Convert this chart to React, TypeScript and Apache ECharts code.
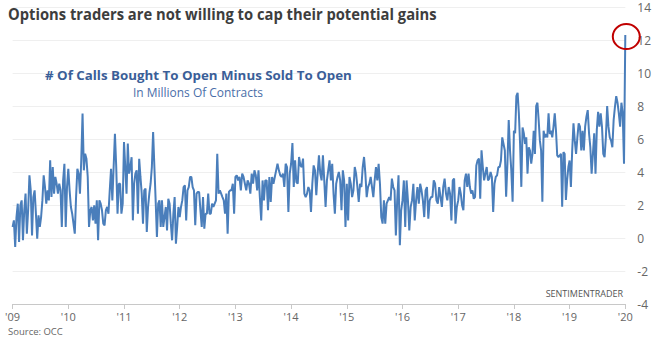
import React, { useEffect, useRef } from "react";
import * as echarts from "echarts";

// Weekly readings (millions of contracts), one small list per calendar year
const y2009 = [0.67, 1.07, -0.55, 1.27, 2.08, -0.24, 1.98, 2.28, -0.14, 1.68, 2.69, 0.26, 1.68, 3.8, 2.89, 0.16, 2.48, 2.89, 1.47, -0.04, 1.37, 0.67, 1.27, 2.28, 3.8, 3.09, 2.08, 2.89, 2.28, 4.71, 2.48, 4.3, 2.69, 3.7, 3.29, 2.69, 3.29, 2.89, 0.67, 3.49, 4.5, 0.67, 3.09];
const y2010 = [4.2, 2.89, 1.88, 1.47, 0.87, 0.26, 2.48, 4.2, 3.9, 2.69, 4.71, 7.54, 4.1, 5.11, 4.81, 3.7, 0.67, 1.68, 1.88, 1.07, 1.98, 0.87, 2.28, -0.14, 2.28, 2.08, 1.68, 0.87, 0.77, 1.68, 1.88, 1.47, 2.89, 4.2, 2.28, 4.3, 6.32, 4.3, 1.47, 3.29, 3.29, 1.47, 2.08];
const y2011 = [5.82, 4.3, 2.69, 5.72, 3.9, 4.3, 4.9, 1.07, 3.29, 3.9, 4.1, 1.47, 4.8, 3.7, 2.69, 0.87, 2.89, 3.0, 0.36, 1.88, 2.69, 3.29, 4.3, 6.42, 4.3, 2.28, 0.06, 2.08, 2.28, 0.67, 2.28, 0.67, 1.27, 1.88, 0.46, 2.38, 2.08, 0.87, -0.14, 1.47, 2.48, -0.34, 0.67, 1.88];
const y2012 = [1.27, 1.88, 2.28, 3.09, 3.19, 1.07, 2.89, 3.09, 3.7, 3.7, 3.09, 2.89, 0.77, 2.69, 2.79, 2.79, 1.68, 0.67, 2.48, 0.57, 1.47, 1.47, 2.69, 1.47, 1.47, 2.08, 1.88, 2.08, 2.28, 5.11, 2.69, 2.89, 2.69, 2.48, 2.28, 1.47, 2.69, 0.26, 2.79, 2.89, 2.89, 3.29, 1.47];
const y2013 = [3.7, 3.8, 3.49, 3.7, 2.89, 3.9, 3.7, 3.29, 2.89, 3.49, 3.29, 2.69, 3.9, 3.29, 4.1, 3.8, 2.89, 4.1, 2.48, 1.07, 3.49, 2.28, 3.49, 3.49, 1.68, 3.7, 2.18, 3.7, 3.29, 3.7, 4.1, 4.5, 4.1, 3.8, 3.7, 3.9, 3.09, 4.5, 4.3, 1.58, 3.9];
const y2014 = [4.5, 5.76, 3.09, 4.71, 3.39, 3.29, 4.91, 4.4, 4.3, 4.81, 2.69, 2.48, 2.69, 3.09, 2.89, 1.58, 3.29, 4.4, 4.1, 2.59, 3.9, 5.01, 3.9, 3.49, 5.01, 3.49, 1.88, 3.49, 4.1, 4.71, 3.49, 4.5, 2.69, 1.47, 3.29, 3.7, 4.0, 3.49, 1.68, 4.1, 3.49, 0.67];
const y2015 = [3.29, 1.07, 3.7, 3.29, 2.48, 2.89, 4.3, 3.9, 3.09, 2.18, 3.29, 3.09, 4.3, 4.91, 3.9, 2.48, 3.09, 3.29, 3.7, 3.09, 2.48, 3.49, 4.3, 3.49, 4.5, 3.29, 1.27, 0.87, 2.28, 0.87, 2.08, 2.28, 2.48, 2.28, 3.6, 3.09, 2.89, 0.16, 2.28, 3.8, -0.44, 1.68];
const y2016 = [2.28, 3.49, 0.67, 3.49, 2.28, 0.46, 1.88, 2.28, 3.29, 1.07, 2.28, 3.09, 2.08, 3.29, 2.89, 2.28, 1.27, 2.89, 3.09, 1.17, 2.28, 2.48, 2.48, 3.49, 3.29, 2.28, 2.08, 3.09, 2.48, 1.88, 3.09, 3.6, 2.69, 2.28, 3.09, 2.69, 1.07, 3.49, 3.6, 0.87, 1.88];
const y2017 = [2.28, 3.09, 2.69, 1.98, 1.68, 3.49, 3.9, 3.09, 3.9, 3.09, 2.69, 2.89, 2.38, 2.48, 4.4, 4.71, 4.81, 2.38, 5.31, 4.3, 3.49, 3.9, 4.3, 3.49, 3.6, 4.0, 3.7, 1.58, 3.29, 3.7, 3.8, 4.3, 4.3, 4.7, 6.1, 5.7, 5.3, 2.5, 4.5, 7.15, 5.3, 4.1, 2.2];
const y2018 = [6.5, 6.35, 8.6, 8.8, 7.55, 5.7, 3.1, 6.7, 6.35, 5.7, 6.1, 3.9, 5.5, 5.3, 4.5, 5.1, 6.5, 5.1, 8.0, 8.2, 7.15, 5.9, 5.3, 2.2, 6.5, 6.1, 6.3, 6.1, 7.55, 6.3, 6.5, 6.1, 6.75, 7.55, 6.5, 5.0, 4.9, 5.0, 5.1, 1.9, 5.2, 5.1, 2.3, 3.5, 4.3];
const y2019 = [4.7, 3.1, 5.3, 6.95, 5.9, 5.1, 6.1, 6.95, 6.75, 5.3, 6.5, 5.3, 6.75, 7.35, 7.75, 6.35, 5.5, 3.9, 5.1, 6.35, 3.9, 6.55, 7.65, 6.75, 7.55, 6.75, 5.1, 4.9, 6.1, 8.0, 6.75, 6.1, 5.9, 5.5, 7.15, 7.95, 8.6, 8.2, 7.55, 6.75, 8.2, 7.55, 4.5];
const y2020 = [12.3];

const yearLists: [number, number[]][] = [
  [2009, y2009], [2010, y2010], [2011, y2011], [2012, y2012], [2013, y2013], [2014, y2014],
  [2015, y2015], [2016, y2016], [2017, y2017], [2018, y2018], [2019, y2019], [2020, y2020],
];

const yAxisRange = { min: -4, max: 14, step: 2 };
const xAxisRange = { min: 2009, max: 2020, step: 1 };

const titleText = "Options traders are not willing to cap their potential gains";
const noteText = "# Of Calls Bought To Open Minus Sold To Open";
const noteSubText = "In Millions Of Contracts";
const creditText = "SENTIMENTRADER";
const sourceText = "Source: OCC";

function buildSeries(): [number, number][] {
  const out: [number, number][] = [];
  for (const [yr, vals] of yearLists) {
    vals.forEach((v, i) => out.push([yr + i / vals.length, v]));
  }
  return out;
}

function measure(text: string, font: string): number {
  const ctx = document.createElement("canvas").getContext("2d");
  if (!ctx) return 0;
  ctx.font = font;
  return ctx.measureText(text).width;
}

export default function App() {
  const ref = useRef<HTMLDivElement>(null);
  useEffect(() => {
    if (!ref.current) return;
    const chart = echarts.init(ref.current, undefined, { renderer: "svg" });
    const data = buildSeries();
    chart.setOption({
      animation: false,
      backgroundColor: "#ffffff",
      grid: { left: 12.6, right: 34.7, top: 7, bottom: 35, containLabel: false },
      xAxis: {
        type: "value",
        min: xAxisRange.min,
        max: xAxisRange.max,
        interval: xAxisRange.step,
        axisLine: { onZero: false, lineStyle: { color: "#c8c8c8", width: 1 } },
        axisTick: { show: true, length: 5, lineStyle: { color: "#c8c8c8" } },
        splitLine: { show: false },
        axisLabel: {
          margin: 6,
          color: "#666666",
          fontSize: 11,
          lineHeight: 12,
          fontFamily: "Open Sans",
          formatter: (v: number) => "'" + String(Math.round(v)).slice(2),
        },
      },
      yAxis: {
        type: "value",
        position: "right",
        min: yAxisRange.min,
        max: yAxisRange.max,
        interval: yAxisRange.step,
        axisLine: { show: false },
        axisTick: { show: false },
        splitLine: { lineStyle: { color: "#efefef", width: 1 } },
        axisLabel: { margin: 12, color: "#666666", fontSize: 12, fontFamily: "Open Sans" },
      },
      series: [
        {
          type: "line",
          data,
          showSymbol: false,
          symbol: "none",
          clip: false,
          lineStyle: { color: "#4a7ebb", width: 2 },
          emphasis: { disabled: true },
        },
      ],
    });

    const last = data[data.length - 1];
    const [px, py] = chart.convertToPixel({ seriesIndex: 0 }, last) as number[];

    const titleFont = 'bold 16px "Open Sans"';
    const titleW = measure(titleText, titleFont) || 430;
    const noteFont = 'bold 13px "Open Sans"';
    const noteW = measure(noteText, noteFont) || 307;
    const subFont = '12px "Open Sans"';
    const subW = measure(noteSubText, subFont) || 130;

    chart.setOption({
      graphic: [
        {
          type: "text",
          x: 8,
          y: 14,
          scaleX: 429 / titleW,
          style: {
            text: titleText,
            font: titleFont,
            fill: "#3d3d3d",
            textAlign: "left",
            textVerticalAlign: "middle",
          },
        },
        {
          type: "text",
          x: 45,
          y: 75,
          scaleX: 307 / noteW,
          style: {
            text: noteText,
            font: noteFont,
            fill: "#3a5e98",
            textAlign: "left",
            textVerticalAlign: "middle",
          },
        },
        {
          type: "text",
          x: 133,
          y: 92,
          scaleX: 130 / subW,
          style: {
            text: noteSubText,
            font: subFont,
            fill: "#4a6ea8",
            textAlign: "left",
            textVerticalAlign: "middle",
          },
        },
        {
          type: "text",
          x: 623,
          y: 293,
          style: {
            text: creditText,
            font: '9px "Open Sans"',
            fill: "#555555",
            textAlign: "right",
            textVerticalAlign: "middle",
          },
        },
        {
          type: "text",
          x: 8,
          y: 331.5,
          style: {
            text: sourceText,
            font: '9.5px "Open Sans"',
            fill: "#666666",
            textAlign: "left",
            textVerticalAlign: "middle",
          },
        },
        {
          type: "ellipse",
          shape: { cx: px + 1, cy: py + 1.5, rx: 13.5, ry: 12.5 },
          style: { fill: "none", stroke: "#c00000", lineWidth: 2 },
          z: 100,
        },
      ],
    });

    return () => chart.dispose();
  }, []);

  return (
    <div
      ref={ref}
      style={{ position: "fixed", left: 0, top: 0, width: 660, height: 339, background: "#fff" }}
    />
  );
}
